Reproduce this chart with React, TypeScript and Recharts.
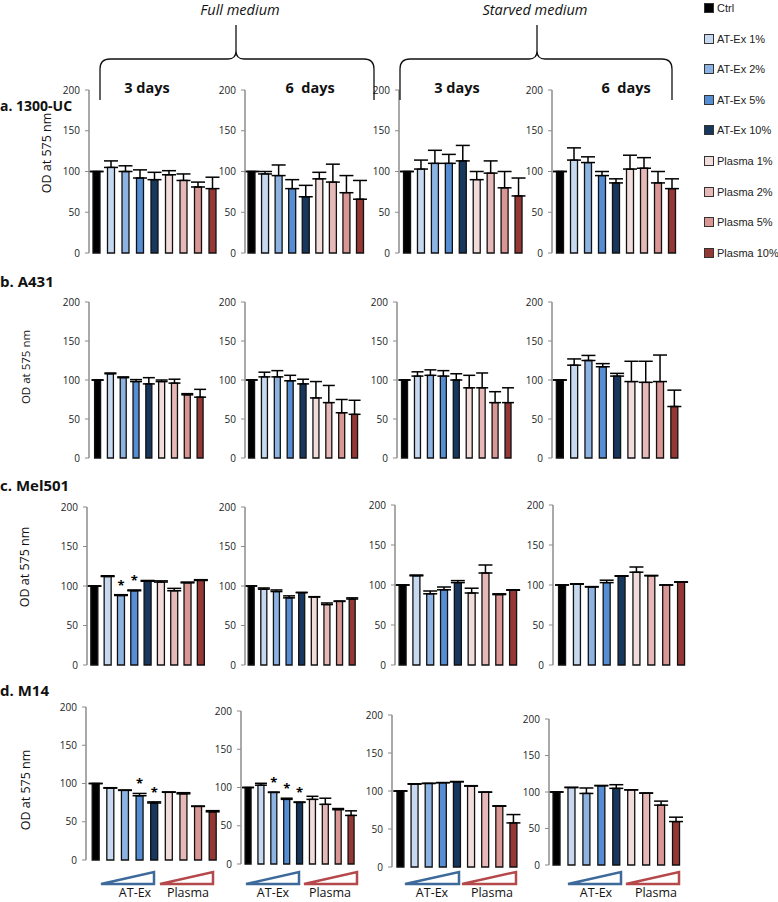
import React from "react";
import { BarChart, Bar, XAxis, YAxis, ErrorBar, Cell, LabelList } from "recharts";

const conditions = ["Ctrl", "AT-Ex 1%", "AT-Ex 2%", "AT-Ex 5%", "AT-Ex 10%", "Plasma 1%", "Plasma 2%", "Plasma 5%", "Plasma 10%"];
const colors = ["#000000", "#c6d9f1", "#8db3e2", "#558ed5", "#17375e", "#f2dcdb", "#e6b9b8", "#d99694", "#953735"];
const yTicks = [0, 50, 100, 150, 200];

const cellLines = ["a. 1300-UC", "b. A431", "c. Mel501", "d. M14"];
const mediums = ["Full medium", "Starved medium"];
const days = ["3 days", "6  days"];
const yLabel = "OD at 575 nm";

// 1300-UC
const ucFull3 = [100, 105, 100, 92, 90, 96, 89, 81, 79];
const ucFull3Err = [0, 8, 7, 10, 9, 5, 8, 6, 14];
const ucFull6 = [100, 97, 95, 79, 69, 91, 87, 74, 66];
const ucFull6Err = [0, 3, 13, 11, 14, 8, 22, 21, 23];
const ucStarv3 = [100, 103, 110, 110, 113, 90, 98, 80, 70];
const ucStarv3Err = [0, 11, 16, 11, 19, 10, 15, 20, 22];
const ucStarv6 = [100, 114, 111, 95, 86, 103, 104, 86, 79];
const ucStarv6Err = [0, 15, 7, 5, 5, 17, 13, 14, 12];

// A431
const a431Full3 = [100, 108, 103, 98, 95, 98, 96, 81, 78];
const a431Full3Err = [0, 1, 1, 2.5, 8, 2, 5, 1.5, 10];
const a431Full6 = [100, 104, 104, 99, 95, 77, 71, 58, 56];
const a431Full6Err = [0, 6, 8, 7, 6, 21, 22, 17, 18];
const a431Starv3 = [100, 105, 106, 105, 100, 90, 90, 71, 71];
const a431Starv3Err = [0, 5.5, 7, 7, 8, 16, 19, 14, 19];
const a431Starv6 = [100, 119, 125, 117, 105, 98, 97, 98, 66];
const a431Starv6Err = [0, 8, 6.5, 4, 3.5, 26, 27, 34, 21];

// Mel501
const melFull3 = [100, 112, 88, 94, 106, 105, 94, 104, 107];
const melFull3Err = [0, 1, 1, 1, 1, 1.5, 3, 1, 1];
const melFull6 = [100, 96, 93, 85, 91.5, 86, 76.5, 80.5, 83.5];
const melFull6Err = [0, 1.5, 2, 2.5, 0.5, 0.5, 2, 0.5, 1.5];
const melStarv3 = [100, 111.5, 89, 94, 103, 90, 115, 88, 93.5];
const melStarv3Err = [0, 1, 3.5, 3.5, 2.5, 6, 10, 1, 0.5];
const melStarv6 = [100, 101, 97.5, 103, 111, 116, 111.5, 100, 103.5];
const melStarv6Err = [0, 0.5, 0.5, 3, 0.5, 6.5, 0.5, 0, 0.5];

// M14
const m14Full3 = [100, 94, 91, 84, 74.5, 88.5, 86.5, 70, 63];
const m14Full3Err = [0, 0.5, 0.5, 3, 1.5, 0.5, 1.5, 0.5, 1.5];
const m14Full6 = [100, 103, 93.5, 84.5, 80.5, 84.5, 78, 71, 63.5];
const m14Full6Err = [0, 2.5, 0.5, 1.5, 0.5, 4, 8, 1.5, 6];
const m14Starv3 = [100, 109, 110, 111, 112, 106.5, 98.5, 80, 58];
const m14Starv3Err = [0, 0.5, 0, 0, 0.5, 0.5, 0, 0.5, 11];
const m14Starv6 = [100, 106, 98, 108.5, 105, 103, 98.5, 82, 59.5];
const m14Starv6Err = [0, 0.5, 7.5, 0.5, 5, 0, 0, 5.5, 6];

// bars marked with an asterisk
const melFull3Stars = [2, 3];
const m14Full3Stars = [3, 4];
const m14Full6Stars = [2, 3, 4];

// where each small chart sits on the page
const layout = [
  { ax: 89, c1: 95.5, c9: 211.5, y200: 90, y0: 253 },
  { ax: 245, c1: 251.5, c9: 360, y200: 90, y0: 253 },
  { ax: 399, c1: 407.5, c9: 519, y200: 90, y0: 253 },
  { ax: 552, c1: 559.5, c9: 671.5, y200: 90, y0: 253 },
  { ax: 89, c1: 98, c9: 200.5, y200: 302, y0: 458 },
  { ax: 245, c1: 252, c9: 355, y200: 302, y0: 458 },
  { ax: 397, c1: 405, c9: 508.5, y200: 302, y0: 458 },
  { ax: 552, c1: 559.5, c9: 674, y200: 302, y0: 458 },
  { ax: 87, c1: 94.5, c9: 201, y200: 507, y0: 665 },
  { ax: 245, c1: 251.5, c9: 352.5, y200: 507, y0: 665 },
  { ax: 395, c1: 403, c9: 513.5, y200: 505, y0: 665 },
  { ax: 553, c1: 562, c9: 681, y200: 505, y0: 665 },
  { ax: 86, c1: 95.5, c9: 212.5, y200: 707, y0: 860 },
  { ax: 241, c1: 248.5, c9: 351.5, y200: 711, y0: 864 },
  { ax: 392, c1: 400, c9: 513, y200: 715, y0: 867 },
  { ax: 549, c1: 556.5, c9: 676, y200: 719, y0: 865 },
];

const panels = [
  [ucFull3, ucFull3Err, []], [ucFull6, ucFull6Err, []], [ucStarv3, ucStarv3Err, []], [ucStarv6, ucStarv6Err, []],
  [a431Full3, a431Full3Err, []], [a431Full6, a431Full6Err, []], [a431Starv3, a431Starv3Err, []], [a431Starv6, a431Starv6Err, []],
  [melFull3, melFull3Err, melFull3Stars], [melFull6, melFull6Err, []], [melStarv3, melStarv3Err, []], [melStarv6, melStarv6Err, []],
  [m14Full3, m14Full3Err, m14Full3Stars], [m14Full6, m14Full6Err, m14Full6Stars], [m14Starv3, m14Starv3Err, []], [m14Starv6, m14Starv6Err, []],
] as [number[], number[], number[]][];

const font = "'Open Sans', sans-serif";

function Panel({ means, errs, stars, lay }: { means: number[]; errs: number[]; stars: number[]; lay: any }) {
  const s = (lay.c9 - lay.c1) / 8;
  const padL = Math.max(0, lay.c1 - lay.ax - s / 2);
  const plotW = padL + 9 * s;
  const yw = 34;
  const mt = 10;
  const mb = 10;
  const ppu = (lay.y0 - lay.y200) / 200;
  const bw = Math.round(s * 0.5);
  const data = conditions.map((name, i) => ({
    name,
    value: means[i],
    err: [0, errs[i]],
    star: stars.includes(i) ? errs[i] : null,
  }));

  const renderStar = (p: any) => {
    if (p.value == null) return null;
    const cx = Number(p.x) + Number(p.width) / 2;
    const cy = Number(p.y) - Number(p.value) * ppu - 5;
    return (
      <text x={cx} y={cy} textAnchor="middle" fontSize={13} fontWeight="bold" fontFamily={font} fill="#000">
        *
      </text>
    );
  };

  return (
    <div style={{ position: "absolute", left: lay.ax - yw, top: lay.y200 - mt }}>
      <BarChart
        width={yw + plotW + 2}
        height={lay.y0 - lay.y200 + mt + mb}
        data={data}
        margin={{ top: mt, right: 2, bottom: mb, left: 0 }}
        barSize={bw}
      >
        <XAxis dataKey="name" hide padding={{ left: padL, right: 0 }} />
        <YAxis
          width={yw}
          domain={[0, 200]}
          ticks={yTicks}
          interval={0}
          axisLine={{ stroke: "#8c8c8c", strokeWidth: 1.5 }}
          tickLine={{ stroke: "#8c8c8c" }}
          tickSize={4}
          tickMargin={5}
          tick={{ fontSize: 10, fill: "#222", fontFamily: font }}
        />
        <Bar dataKey="value" stroke="#111" strokeWidth={1.3} isAnimationActive={false}>
          {data.map((d, i) => (
            <Cell key={d.name} fill={colors[i]} />
          ))}
          <ErrorBar dataKey="err" width={bw} stroke="#000" strokeWidth={1.5} direction="y" isAnimationActive={false} />
          <LabelList dataKey="star" content={renderStar} />
        </Bar>
      </BarChart>
    </div>
  );
}

const bracePath = (x1: number, xm: number, x2: number) =>
  `M${x1},100 L${x1},69 Q${x1},59 ${x1 + 10},59 L${xm - 8},59 Q${xm},59 ${xm},51 L${xm},25 ` +
  `M${xm},51 Q${xm},59 ${xm + 8},59 L${x2 - 10},59 Q${x2},59 ${x2},69 L${x2},100`;

// decorative wedges under the last row: [blue start, blue end, red start, red end, AT-Ex label x, Plasma label x]
const wedges = [
  [101, 154, 160, 213, 135, 188],
  [246, 299, 304, 357, 273, 330],
  [405, 459, 462, 516, 432, 492],
  [568, 621, 626, 679, 596, 656],
];

const rowLabelY = [107, 283, 487, 692];
const yLabelPos = [
  [48, 153, 12.5],
  [27, 367, 11.5],
  [26, 567, 12.5],
  [27, 790, 12.5],
];

export default function App() {
  return (
    <div style={{ position: "absolute", left: 0, top: 0, width: 778, height: 902, background: "#fff", overflow: "hidden" }}>
      {panels.map(([m, e, st], i) => (
        <Panel key={i} means={m} errs={e} stars={st} lay={layout[i]} />
      ))}

      <svg width={778} height={902} style={{ position: "absolute", left: 0, top: 0, pointerEvents: "none" }}>
        <text x={240} y={11} textAnchor="middle" dominantBaseline="middle" fontStyle="italic" fontSize={14.5} fontFamily={font} fill="#111">
          {mediums[0]}
        </text>
        <text x={535} y={11} textAnchor="middle" dominantBaseline="middle" fontStyle="italic" fontSize={14.5} fontFamily={font} fill="#111">
          {mediums[1]}
        </text>
        <path d={bracePath(100, 236, 374)} fill="none" stroke="#111" strokeWidth={1.3} />
        <path d={bracePath(400, 537, 672)} fill="none" stroke="#111" strokeWidth={1.3} />
        {[147, 310, 457, 626].map((x, i) => (
          <text key={i} x={x} y={89} textAnchor="middle" dominantBaseline="middle" fontWeight="bold" fontSize={14.5} fontFamily={font} fill="#111" style={{ whiteSpace: "pre" }}>
            {days[i % 2]}
          </text>
        ))}
        {cellLines.map((t, i) => (
          <text key={t} x={0} y={rowLabelY[i]} dominantBaseline="middle" fontWeight="bold" fontSize={i === 0 ? 14 : 15} fontFamily={font} fill="#111">
            {t}
          </text>
        ))}
        {yLabelPos.map(([x, y, fs], i) => (
          <text key={i} transform={`translate(${x},${y}) rotate(-90)`} textAnchor="middle" dominantBaseline="middle" fontSize={fs} fontFamily={font} fill="#111">
            {yLabel}
          </text>
        ))}
        {wedges.map(([b1, b2, r1, r2, lx1, lx2], i) => (
          <g key={i}>
            <polygon points={`${b1},884 ${b2},884 ${b2},872`} fill="#fff" stroke="#3d6a9a" strokeWidth={2.5} strokeLinejoin="miter" />
            <polygon points={`${r1},884 ${r2},884 ${r2},872`} fill="#fff" stroke="#b5484a" strokeWidth={2.5} strokeLinejoin="miter" />
            <text x={lx1} y={894} textAnchor="middle" dominantBaseline="middle" fontSize={12.5} fontFamily={font} fill="#111">
              AT-Ex
            </text>
            <text x={lx2} y={894} textAnchor="middle" dominantBaseline="middle" fontSize={12.5} fontFamily={font} fill="#111">
              Plasma
            </text>
          </g>
        ))}
      </svg>

      {conditions.map((c, i) => (
        <div key={c} style={{ position: "absolute", left: 704, top: 8 + i * 30.6 - 6, height: 12, display: "flex", alignItems: "center" }}>
          <div style={{ width: 10, height: 10, background: colors[i], border: "1px solid #333", boxSizing: "border-box" }} />
          <span style={{ marginLeft: 3, fontFamily: "'Liberation Sans', Arial, sans-serif", fontSize: 11, color: "#222", whiteSpace: "nowrap" }}>{c}</span>
        </div>
      ))}
    </div>
  );
}
